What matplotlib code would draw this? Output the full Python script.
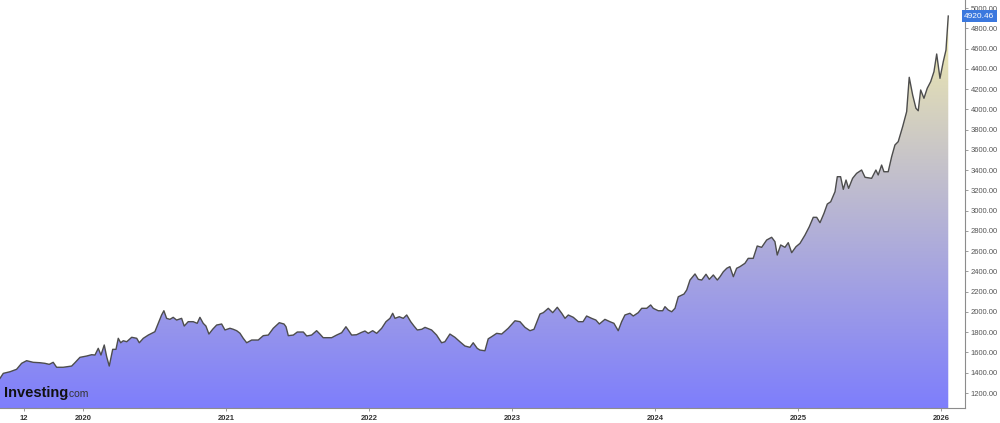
import matplotlib
matplotlib.use("Agg")
import matplotlib.pyplot as plt
import numpy as np

# gold price (USD), x as decimal year
years = [
    2019.420, 2019.443, 2019.490, 2019.536, 2019.571, 2019.606, 2019.652, 2019.699,
    2019.734, 2019.764, 2019.792, 2019.816, 2019.862, 2019.921, 2019.944, 2019.979,
    2020.026, 2020.061, 2020.084, 2020.107, 2020.126, 2020.149, 2020.166, 2020.184,
    2020.208, 2020.231, 2020.247, 2020.264, 2020.282, 2020.306, 2020.341, 2020.376,
    2020.394, 2020.422, 2020.457, 2020.503, 2020.527, 2020.550, 2020.566, 2020.585,
    2020.608, 2020.631, 2020.655, 2020.690, 2020.708, 2020.736, 2020.771, 2020.799,
    2020.818, 2020.841, 2020.860, 2020.881, 2020.907, 2020.935, 2020.970, 2020.993,
    2021.028, 2021.051, 2021.075, 2021.098, 2021.121, 2021.145, 2021.180, 2021.226,
    2021.261, 2021.296, 2021.331, 2021.373, 2021.406, 2021.420, 2021.436, 2021.471,
    2021.499, 2021.541, 2021.565, 2021.599, 2021.634, 2021.657, 2021.680, 2021.739,
    2021.774, 2021.809, 2021.839, 2021.855, 2021.879, 2021.913, 2021.949, 2021.972,
    2021.995, 2022.026, 2022.054, 2022.089, 2022.119, 2022.147, 2022.166, 2022.182,
    2022.212, 2022.240, 2022.264, 2022.292, 2022.315, 2022.338, 2022.369, 2022.392,
    2022.438, 2022.473, 2022.508, 2022.531, 2022.566, 2022.601, 2022.636, 2022.671,
    2022.706, 2022.729, 2022.757, 2022.776, 2022.811, 2022.834, 2022.858, 2022.893,
    2022.928, 2022.974, 2023.021, 2023.056, 2023.091, 2023.126, 2023.154, 2023.196,
    2023.219, 2023.254, 2023.285, 2023.317, 2023.348, 2023.371, 2023.394, 2023.429,
    2023.464, 2023.497, 2023.522, 2023.557, 2023.587, 2023.611, 2023.650, 2023.685,
    2023.713, 2023.743, 2023.767, 2023.790, 2023.825, 2023.848, 2023.883, 2023.907,
    2023.942, 2023.970, 2023.988, 2024.023, 2024.054, 2024.070, 2024.093, 2024.117,
    2024.140, 2024.163, 2024.203, 2024.222, 2024.245, 2024.280, 2024.303, 2024.327,
    2024.357, 2024.380, 2024.408, 2024.436, 2024.455, 2024.478, 2024.502, 2024.524,
    2024.548, 2024.571, 2024.594, 2024.629, 2024.652, 2024.687, 2024.715, 2024.746,
    2024.781, 2024.816, 2024.839, 2024.855, 2024.879, 2024.909, 2024.932, 2024.956,
    2024.986, 2025.014, 2025.049, 2025.079, 2025.107, 2025.131, 2025.154, 2025.182,
    2025.205, 2025.229, 2025.259, 2025.275, 2025.298, 2025.317, 2025.336, 2025.354,
    2025.382, 2025.410, 2025.445, 2025.469, 2025.515, 2025.545, 2025.561, 2025.585,
    2025.601, 2025.631, 2025.655, 2025.678, 2025.701, 2025.732, 2025.760, 2025.778,
    2025.802, 2025.825, 2025.841, 2025.858, 2025.881, 2025.904, 2025.928, 2025.951,
    2025.970, 2025.993, 2026.016, 2026.035, 2026.051,
]
prices = [
    1345, 1394, 1410, 1434, 1493, 1519, 1503, 1499,
    1493, 1483, 1503, 1454, 1454, 1466, 1499, 1552,
    1565, 1578, 1575, 1641, 1575, 1674, 1558, 1466,
    1631, 1631, 1740, 1696, 1716, 1706, 1750, 1740,
    1696, 1740, 1772, 1805, 1888, 1970, 2012, 1937,
    1927, 1947, 1920, 1937, 1861, 1904, 1904, 1888,
    1947, 1888, 1861, 1782, 1829, 1871, 1881, 1822,
    1839, 1829, 1815, 1790, 1740, 1696, 1723, 1723,
    1766, 1772, 1839, 1894, 1881, 1854, 1766, 1772,
    1802, 1802, 1763, 1772, 1815, 1782, 1746, 1746,
    1772, 1795, 1854, 1822, 1772, 1775, 1799, 1812,
    1789, 1815, 1789, 1839, 1904, 1937, 1987, 1937,
    1953, 1937, 1970, 1904, 1861, 1822, 1829, 1848,
    1822, 1772, 1696, 1706, 1782, 1750, 1706, 1664,
    1651, 1696, 1641, 1624, 1617, 1735, 1756, 1789,
    1782, 1839, 1913, 1904, 1848, 1815, 1829, 1980,
    1993, 2036, 1993, 2046, 1987, 1937, 1970, 1947,
    1904, 1904, 1960, 1937, 1920, 1881, 1927, 1904,
    1888, 1815, 1904, 1970, 1987, 1960, 1993, 2036,
    2036, 2069, 2036, 2012, 2012, 2052, 2019, 2002,
    2036, 2150, 2177, 2217, 2315, 2375, 2322, 2315,
    2372, 2322, 2365, 2315, 2348, 2397, 2431, 2447,
    2348, 2431, 2447, 2480, 2529, 2529, 2651, 2638,
    2710, 2737, 2694, 2562, 2661, 2638, 2684, 2585,
    2644, 2677, 2759, 2841, 2934, 2934, 2881, 2974,
    3065, 3088, 3187, 3335, 3335, 3210, 3302, 3220,
    3319, 3368, 3401, 3329, 3319, 3401, 3352, 3450,
    3384, 3384, 3532, 3648, 3681, 3829, 3977, 4316,
    4141, 4010, 3986, 4191, 4109, 4208, 4273, 4372,
    4546, 4306, 4470, 4585, 4920.46,
]

x_ticks = [2019.587, 2020.0, 2021.0, 2022.0, 2023.0, 2024.0, 2025.0, 2026.0]
x_labels = ["12", "2020", "2021", "2022", "2023", "2024", "2025", "2026"]
y_ticks = list(range(1200, 5001, 200))
last_price = 4920.46

x_min, x_max = 2019.420, 2026.168
y_min, y_max = 1052, 5079

fig = plt.figure(figsize=(10, 4.23), dpi=100)
ax = fig.add_axes([0, 15 / 423, 0.965, 408 / 423])

# area under the line, filled with a vertical blue -> yellow gradient
fill = ax.fill_between(years, prices, y_min, facecolor="none", linewidth=0)
top = np.array([246, 241, 168]) / 255
bottom = np.array([126, 126, 252]) / 255
t = np.linspace(0, 1, 256)[:, None]
grad = (top * (1 - t) + bottom * t)[:, None, :]
im = ax.imshow(grad, extent=(x_min, x_max, y_min, y_max), origin="upper",
               aspect="auto", zorder=1, interpolation="bilinear")
im.set_clip_path(fill.get_paths()[0], transform=ax.transData)

ax.plot(years, prices, color="#4d4d4d", linewidth=1.0, zorder=3)

ax.set_xlim(x_min, x_max)
ax.set_ylim(y_min, y_max)

for side in ["top", "left"]:
    ax.spines[side].set_visible(False)
ax.spines["right"].set_color("#8c8c8c")
ax.spines["bottom"].set_color("#8c8c8c")
ax.spines["right"].set_linewidth(0.8)
ax.spines["bottom"].set_linewidth(0.8)

ax.yaxis.tick_right()
ax.set_yticks(y_ticks)
ax.set_yticklabels([f"{v:.2f}" for v in y_ticks], family="Liberation Sans")
ax.set_xticks(x_ticks)
ax.set_xticklabels(x_labels, family="Liberation Sans", fontweight="bold")
ax.tick_params(axis="y", labelsize=5.5, colors="#8c8c8c", labelcolor="#555555",
               length=2.5, width=0.6, pad=1.5)
ax.tick_params(axis="x", labelsize=5.5, colors="#8c8c8c", labelcolor="#333333",
               length=2, width=0.6, pad=3)

# current price tag
ax.text(0.999, last_price, f"{last_price:.2f}", transform=ax.get_yaxis_transform(),
        ha="left", va="center", fontsize=6, family="Liberation Sans",
        color="white", zorder=5, clip_on=False,
        bbox=dict(boxstyle="square,pad=0.3", facecolor="#3b78de", edgecolor="none"))

# watermark
fig.text(4 / 1000, 26 / 423, "Investing", fontsize=10.5, fontweight="bold",
         family="Liberation Sans", color="#111111", va="baseline", zorder=6)
fig.text(66 / 1000, 26 / 423, ".com", fontsize=7.5, family="Liberation Sans",
         color="#333333", va="baseline", zorder=6)

fig.savefig("out.png", dpi=100)
